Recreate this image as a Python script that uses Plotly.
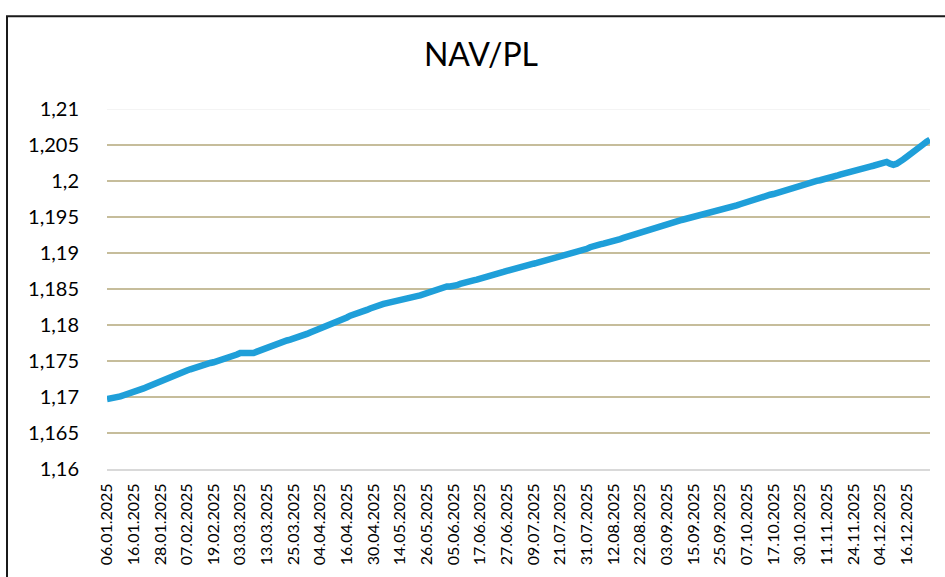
import pandas as pd
import plotly.graph_objects as go

# ---- data -------------------------------------------------------------
START_DATE = "2025-01-06"
END_DATE = "2025-12-30"
NON_VALUATION_DAYS = ["2025-04-18", "2025-04-21", "2025-05-01", "2025-05-02",
                      "2025-10-27", "2025-11-17",
                      "2025-12-24", "2025-12-25", "2025-12-26"]

NAV = [
    1.16972, 1.16976, 1.16980, 1.16990, 1.17008, 1.17025, 1.17038, 1.17055, 1.17080, 1.17090,
    1.17102, 1.17120, 1.17140, 1.17161, 1.17180, 1.17200, 1.17222, 1.17245, 1.17264, 1.17280,
    1.17300, 1.17322, 1.17342, 1.17355, 1.17368, 1.17385, 1.17403, 1.17418, 1.17430, 1.17445,
    1.17460, 1.17472, 1.17482, 1.17495, 1.17508, 1.17518, 1.17535, 1.17552, 1.17570, 1.17590,
    1.17611, 1.17610, 1.17604, 1.17601, 1.17612, 1.17630, 1.17647, 1.17672, 1.17695, 1.17718,
    1.17736, 1.17748, 1.17760, 1.17772, 1.17785, 1.17796, 1.17808, 1.17820, 1.17833, 1.17855,
    1.17876, 1.17897, 1.17915, 1.17935, 1.17955, 1.17972, 1.17985, 1.17998, 1.18012, 1.18028,
    1.18055, 1.18080, 1.18105, 1.18129, 1.18142, 1.18158, 1.18173, 1.18189, 1.18210, 1.18230,
    1.18250, 1.18268, 1.18280, 1.18292, 1.18305, 1.18318, 1.18328, 1.18340, 1.18352, 1.18364,
    1.18375, 1.18383, 1.18392, 1.18402, 1.18411, 1.18428, 1.18444, 1.18460, 1.18476, 1.18495,
    1.18514, 1.18532, 1.18535, 1.18534, 1.18536, 1.18553, 1.18570, 1.18588, 1.18598, 1.18609,
    1.18619, 1.18629, 1.18640, 1.18650, 1.18661, 1.18676, 1.18692, 1.18707, 1.18722, 1.18737,
    1.18752, 1.18767, 1.18782, 1.18792, 1.18803, 1.18815, 1.18827, 1.18839, 1.18851, 1.18862,
    1.18874, 1.18885, 1.18897, 1.18911, 1.18925, 1.18939, 1.18953, 1.18967, 1.18981, 1.18994,
    1.19008, 1.19017, 1.19027, 1.19036, 1.19058, 1.19080, 1.19101, 1.19110, 1.19120, 1.19130,
    1.19139, 1.19153, 1.19166, 1.19180, 1.19194, 1.19209, 1.19224, 1.19239, 1.19254, 1.19269,
    1.19284, 1.19299, 1.19314, 1.19332, 1.19350, 1.19368, 1.19386, 1.19397, 1.19408, 1.19420,
    1.19431, 1.19442, 1.19453, 1.19465, 1.19476, 1.19491, 1.19507, 1.19522, 1.19532, 1.19543,
    1.19553, 1.19564, 1.19576, 1.19588, 1.19599, 1.19611, 1.19623, 1.19636, 1.19648, 1.19661,
    1.19677, 1.19694, 1.19710, 1.19726, 1.19743, 1.19761, 1.19778, 1.19788, 1.19799, 1.19809,
    1.19819, 1.19834, 1.19849, 1.19864, 1.19879, 1.19898, 1.19916, 1.19935, 1.19940, 1.19950,
    1.19962, 1.19980, 1.19994, 1.20002, 1.20011, 1.20019, 1.20028, 1.20043, 1.20058, 1.20073,
    1.20088, 1.20103, 1.20118, 1.20132, 1.20147, 1.20158, 1.20168, 1.20179, 1.20189, 1.20201,
    1.20212, 1.20224, 1.20236, 1.20250, 1.20264, 1.20240, 1.20226, 1.20240, 1.20258, 1.20300,
    1.20335, 1.20365, 1.20405, 1.20445, 1.20481, 1.20510, 1.20545, 1.20574,
]

X_TICK_LABELS = [
    "06.01.2025", "16.01.2025", "28.01.2025", "07.02.2025", "19.02.2025", "03.03.2025",
    "13.03.2025", "25.03.2025", "04.04.2025", "16.04.2025", "30.04.2025", "14.05.2025",
    "26.05.2025", "05.06.2025", "17.06.2025", "27.06.2025", "09.07.2025", "21.07.2025",
    "31.07.2025", "12.08.2025", "22.08.2025", "03.09.2025", "15.09.2025", "25.09.2025",
    "07.10.2025", "17.10.2025", "30.10.2025", "11.11.2025", "24.11.2025", "04.12.2025",
    "16.12.2025",
]
X_LABEL_STEP = 8

Y_TICKS = [1.16, 1.165, 1.17, 1.175, 1.18, 1.185, 1.19, 1.195, 1.2, 1.205, 1.21]
Y_TICK_LABELS = ["1,16", "1,165", "1,17", "1,175", "1,18", "1,185", "1,19",
                 "1,195", "1,2", "1,205", "1,21"]

TITLE = "NAV/PL"

# ---- categories -------------------------------------------------------
days = pd.bdate_range(START_DATE, END_DATE)
days = days[~days.isin(pd.to_datetime(NON_VALUATION_DAYS))]
categories = [d.strftime("%d.%m.%Y") for d in days]
n = min(len(categories), len(NAV))
categories = categories[:n]
values = NAV[:n]

FONT = "Lato, 'Open Sans', sans-serif"
GRID_COLOR = "#c6bd9b"
LINE_COLOR = "#1f9fd9"

fig = go.Figure()
fig.add_trace(go.Scatter(
    x=categories, y=values, mode="lines",
    line=dict(color=LINE_COLOR, width=6.5, shape="linear"),
    hoverinfo="x+y", showlegend=False,
))

tick_pos = [categories[i] for i in range(0, n, X_LABEL_STEP)][:len(X_TICK_LABELS)]

shapes = []
for v in Y_TICKS[1:-1]:
    shapes.append(dict(type="line", xref="paper", x0=0, x1=1, yref="y", y0=v, y1=v,
                       line=dict(color=GRID_COLOR, width=2), layer="below"))
shapes.append(dict(type="line", xref="paper", x0=0, x1=1, yref="y",
                   y0=Y_TICKS[-1], y1=Y_TICKS[-1],
                   line=dict(color="#f0f0f0", width=1.5), layer="below"))
# outer chart frame (partly outside the visible page)
shapes.append(dict(type="rect", xref="paper", yref="paper",
                   x0=-0.1215, x1=1.2, y0=-0.5, y1=1.2575,
                   line=dict(color="#1a1a1a", width=2), fillcolor="rgba(0,0,0,0)",
                   layer="above"))

fig.update_layout(
    width=945, height=577,
    margin=dict(l=107, r=15, t=109, b=108, autoexpand=False),
    paper_bgcolor="white", plot_bgcolor="white",
    font=dict(family=FONT, color="#000000"),
    title=dict(text=TITLE, x=0.509, xref="container", xanchor="center",
               y=0.905, yref="container", yanchor="middle",
               font=dict(family=FONT, size=32, color="#000000")),
    shapes=shapes,
    xaxis=dict(
        type="category", range=[0, n - 1], automargin=False,
        tickmode="array", tickvals=tick_pos, ticktext=X_TICK_LABELS,
        tickangle=-90, tickfont=dict(family=FONT, size=16, color="#000000"),
        ticks="outside", ticklen=6, tickcolor="rgba(0,0,0,0)",
        showgrid=False, zeroline=False,
        showline=True, linecolor="#d9d9d9", linewidth=2,
    ),
    yaxis=dict(
        range=[Y_TICKS[0], Y_TICKS[-1]], automargin=False,
        tickmode="array", tickvals=Y_TICKS, ticktext=Y_TICK_LABELS,
        tickfont=dict(family=FONT, size=20, color="#000000"),
        ticks="outside", ticklen=23, tickcolor="rgba(0,0,0,0)",
        showgrid=False, zeroline=False, showline=False,
    ),
)

fig.write_html("out.html",
               config={"displayModeBar": False},
               post_script="document.body.style.margin='0';"
                           "document.body.style.overflow='hidden';")
